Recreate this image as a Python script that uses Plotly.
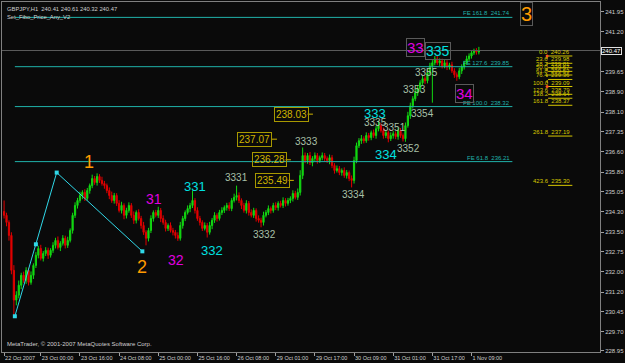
import plotly.graph_objects as go

# ---------------- data ----------------
symbol_header = "GBPJPY,H1  240.41 240.61 240.32 240.47"
indicator_name = "Set_Fibo_Price_Any_V2"
copyright_text = "MetaTrader, © 2001-2007 MetaQuotes Software Corp."

first_open = 234.30
closes = [
    234.15, 233.88, 233.38, 232.04, 230.90, 231.09, 231.47, 231.85, 231.66, 232.04,
    231.58, 231.85, 232.23, 232.62, 232.88, 232.50, 232.69, 232.81, 232.62, 232.81,
    233.00, 233.19, 232.92, 233.08, 233.27, 233.00, 233.19, 233.57, 234.15, 234.53,
    234.72, 234.91, 235.03, 234.80, 235.10, 235.29, 235.56, 235.41, 235.64, 235.49,
    235.37, 235.29, 235.10, 234.91, 234.72, 234.91, 234.61, 234.34, 234.53, 234.15,
    234.34, 234.53, 234.15, 233.96, 234.26, 234.03, 233.76, 233.50, 233.27, 233.57,
    234.03, 234.26, 234.15, 234.34, 234.03, 233.88, 233.65, 233.76, 233.57, 233.50,
    233.38, 233.27, 233.76, 234.03, 234.26, 234.41, 234.53, 234.72, 234.34, 234.03,
    233.88, 233.65, 233.76, 233.50, 233.76, 233.96, 234.15, 234.03, 234.26, 234.34,
    234.45, 234.53, 234.41, 234.72, 234.84, 234.91, 234.72, 234.53, 234.34, 234.61,
    234.26, 234.15, 234.34, 234.03, 233.96, 233.88, 234.15, 234.26, 234.41, 234.34,
    234.53, 234.45, 234.61, 234.53, 234.72, 234.61, 234.72, 234.80, 234.99, 234.84,
    235.03, 235.68, 236.44, 236.25, 236.44, 236.17, 236.33, 236.44, 236.25, 236.36,
    236.44, 236.33, 236.25, 236.36, 236.06, 235.87, 235.94, 235.79, 235.87, 235.68,
    235.79, 235.56, 235.49, 236.25, 236.82, 237.01, 237.09, 237.01, 237.21, 237.13,
    237.32, 237.21, 237.47, 237.59, 237.40, 237.21, 237.32, 237.09, 237.21, 237.28,
    237.17, 237.40, 237.21, 237.09, 237.59, 237.97, 238.35, 238.62, 238.85, 239.00,
    239.23, 239.39, 239.31, 239.61, 239.88, 240.00, 240.15, 240.00, 240.07, 239.88,
    240.00, 239.84, 239.92, 239.69, 239.54, 239.46, 239.69, 239.84, 240.00, 240.15,
    240.26, 240.38, 240.46, 240.41, 240.47,
]
# upper / lower shadow lengths of each bar, in pips (0.01)
wick_up_pips = [
    15, 10, 8, 12, 20, 15, 18, 10, 14, 12,
    10, 15, 8, 12, 10, 14, 9, 12, 10, 8,
    12, 10, 15, 8, 12, 10, 14, 8, 10, 12,
    10, 15, 8, 12, 10, 8, 15, 10, 12, 9,
    14, 10, 8, 12, 15, 10, 9, 12, 14, 8,
    10, 12, 9, 15, 8, 12, 10, 14, 8, 10,
    12, 8, 10, 14, 9, 12, 10, 8, 12, 10,
    9, 12, 14, 10, 8, 12, 10, 15, 9, 12,
    10, 8, 12, 10, 14, 9, 12, 8, 10, 12,
    8, 10, 12, 9, 14, 10, 12, 8, 10, 12,
    9, 12, 10, 8, 12, 10, 14, 9, 12, 8,
    10, 12, 8, 10, 12, 9, 10, 8, 12, 10,
    15, 20, 18, 12, 10, 14, 9, 12, 10, 8,
    12, 10, 8, 12, 10, 9, 12, 10, 8, 12,
    10, 8, 12, 15, 12, 10, 14, 9, 12, 10,
    8, 12, 10, 14, 9, 12, 10, 8, 12, 10,
    9, 12, 10, 8, 12, 15, 12, 10, 14, 12,
    10, 12, 9, 14, 12, 10, 8, 12, 10, 9,
    12, 10, 8, 12, 10, 9, 12, 10, 8, 12,
    10, 9, 8, 10, 14,
]
wick_dn_pips = [
    12, 15, 20, 15, 18, 20, 12, 15, 10, 14,
    12, 9, 14, 10, 12, 8, 12, 10, 14, 9,
    10, 12, 8, 14, 9, 12, 10, 8, 12, 10,
    12, 9, 14, 10, 8, 12, 10, 9, 12, 10,
    8, 12, 10, 14, 9, 12, 10, 8, 12, 15,
    12, 9, 10, 14, 12, 8, 12, 10, 9, 12,
    10, 12, 8, 10, 14, 9, 12, 10, 8, 12,
    12, 10, 9, 12, 10, 8, 14, 10, 12, 9,
    12, 10, 8, 12, 9, 14, 10, 12, 8, 10,
    10, 12, 9, 10, 8, 12, 10, 14, 9, 12,
    12, 8, 10, 12, 9, 10, 12, 8, 10, 12,
    9, 10, 12, 8, 10, 12, 9, 10, 12, 8,
    10, 12, 14, 10, 12, 9, 14, 10, 12, 9,
    10, 12, 9, 14, 10, 12, 8, 10, 12, 9,
    12, 10, 8, 12, 10, 9, 12, 10, 8, 12,
    10, 9, 12, 10, 8, 12, 10, 14, 9, 12,
    10, 12, 9, 10, 12, 8, 12, 10, 9, 12,
    10, 8, 12, 10, 9, 12, 10, 8, 12, 10,
    9, 12, 10, 8, 12, 10, 9, 12, 10, 8,
    9, 10, 8, 10, 9,
]
# wick extremes (bar index -> price)
high_extremes = {0: 234.72, 38: 235.76, 77: 235.10, 95: 235.29, 122: 236.75,
                 153: 237.78, 176: 240.26}
low_extremes = {4: 230.28, 58: 233.00, 83: 233.30, 105: 233.69, 142: 235.22,
                163: 236.98, 175: 238.47, 185: 239.31}

time_tick_index = [0, 15, 31, 47, 63, 79, 95, 111, 127, 143, 159, 175, 191]
time_tick_text = ["22 Oct 2007", "23 Oct 00:00", "23 Oct 16:00", "24 Oct 08:00",
                  "25 Oct 00:00", "25 Oct 16:00", "26 Oct 08:00", "29 Oct 01:00",
                  "29 Oct 17:00", "30 Oct 09:00", "31 Oct 01:00", "31 Oct 17:00",
                  "1 Nov 09:00"]
price_ticks = [241.95, 241.20, 239.65, 238.90, 238.10, 237.35, 236.60, 235.80,
               235.05, 234.30, 233.50, 232.75, 232.00, 231.20, 230.45, 229.70, 228.95]
last_price = 240.47

# Fibonacci expansion lines
fe_ratio = ["161.8", "127.6", "100.0", "61.8"]
fe_price = [241.74, 239.85, 238.32, 236.21]

# Fibonacci retracement labels
fib_ratio = ["0.0", "23.6", "38.2", "50.0", "61.8", "76.4", "100.0", "123.6",
             "138.2", "161.8", "261.8", "423.6"]
fib_price = [240.26, 239.98, 239.81, 239.67, 239.53, 239.36, 239.09, 238.79,
             238.64, 238.37, 237.19, 235.30]

# boxed price levels
box_price = [238.03, 237.07, 236.28, 235.49]

# zigzag (bar index, price)
zig_index = [4.4, 13.0, 21.5, 56.5]
zig_price = [230.28, 233.04, 235.79, 232.77]

# wave labels: text, bar index, price
wave_major = [("1", 34.5, 236.21), ("2", 56.5, 232.16)]
wave_minor = [("31", 61.3, 234.76), ("32", 70.3, 232.43)]
wave_sub = [("331", 78.0, 235.26), ("332", 85.0, 232.81), ("333", 151.6, 238.05),
            ("334", 156.0, 236.48)]
wave_subsub = [("3331", 95.0, 235.60), ("3332", 106.5, 233.42), ("3333", 123.5, 236.98),
               ("3334", 142.6, 234.95), ("3335", 151.6, 237.70), ("3351", 159.7, 237.51),
               ("3352", 165.4, 236.71), ("3353", 167.8, 238.96), ("3354", 171.1, 238.05),
               ("3355", 172.7, 239.61)]
wave_boxed = [("3", 213.4, 241.87, "#ff9a00", 20), ("33", 168.3, 240.57, "#e000e0", 15),
              ("335", 177.2, 240.46, "#00e0e0", 14), ("34", 188.2, 238.81, "#e000e0", 15)]

# ---------------- build ----------------
n = len(closes)
idx = list(range(n))
opens = [first_open] + closes[:-1]
highs = [round(max(o, c) + u / 100, 2) for o, c, u in zip(opens, closes, wick_up_pips)]
lows = [round(min(o, c) - d / 100, 2) for o, c, d in zip(opens, closes, wick_dn_pips)]
for k, v in high_extremes.items():
    highs[k] = max(highs[k], v)
for k, v in low_extremes.items():
    lows[k] = min(lows[k], v)

BG = "#0a0a0a"
TEAL = "#20b2aa"
YEL = "#d8c800"
GOLD = "#d0b400"
FONT = "Liberation Sans, Arial, sans-serif"

fig = go.Figure()

# current price line
fig.add_trace(go.Scatter(x=[-5, 250], y=[last_price, last_price], mode="lines",
                         line=dict(color="#5a5a5a", width=1), hoverinfo="skip"))

# FE lines
fe_x0, fe_x1 = 4.4, 207.7
for r, p in zip(fe_ratio, fe_price):
    fig.add_trace(go.Scatter(x=[fe_x0, fe_x1], y=[p, p], mode="lines",
                             line=dict(color=TEAL, width=1), hoverinfo="skip"))

# fib retracement underlines and vertical
fib_x0, fib_x1 = 222.3, 232.2
for p in fib_price:
    fig.add_trace(go.Scatter(x=[fib_x0, fib_x1], y=[p, p], mode="lines",
                             line=dict(color=YEL, width=1), hoverinfo="skip"))
fig.add_trace(go.Scatter(x=[221.9, 221.9], y=[fib_price[0], fib_price[6]], mode="lines+markers",
                         line=dict(color=YEL, width=1, dash="dot"),
                         marker=dict(color="#ff5020", size=3), hoverinfo="skip"))

# boxed price level stubs
box_x = [117.4, 102.4, 108.5, 109.7]
stub_x0 = [124.0, 109.3, 115.0, 116.2]
for p, s in zip(box_price, stub_x0):
    fig.add_trace(go.Scatter(x=[s, s + 2.2], y=[p, p], mode="lines",
                             line=dict(color=GOLD, width=1), hoverinfo="skip"))

# candles
fig.add_trace(go.Candlestick(
    x=idx, open=opens, high=highs, low=lows, close=closes,
    increasing=dict(line=dict(color="#12d812", width=1), fillcolor="#12d812"),
    decreasing=dict(line=dict(color="#e00000", width=1), fillcolor="#e00000"),
    whiskerwidth=0, hoverinfo="skip"))

# zigzag
fig.add_trace(go.Scatter(x=zig_index, y=zig_price, mode="lines+markers",
                         line=dict(color="#30d8e8", width=1),
                         marker=dict(symbol="square", size=4, color="#30d8e8"),
                         hoverinfo="skip"))

ann = []
# header
ann.append(dict(xref="paper", yref="paper", x=0, y=1, xshift=3, yshift=-2,
                xanchor="left", yanchor="top", showarrow=False, text=symbol_header,
                font=dict(family=FONT, size=5.8, color="#d0d0d0")))
ann.append(dict(xref="paper", yref="paper", x=0, y=1, xshift=3, yshift=-10,
                xanchor="left", yanchor="top", showarrow=False, text=indicator_name,
                font=dict(family=FONT, size=5.8, color="#d0d0d0")))
ann.append(dict(xref="paper", yref="paper", x=0, y=0, xshift=3, yshift=3,
                xanchor="left", yanchor="bottom", showarrow=False, text=copyright_text,
                font=dict(family=FONT, size=6, color="#d0d0d0")))
# current price box
ann.append(dict(xref="paper", yref="y", x=1, y=last_price, xshift=1, xanchor="left",
                yanchor="middle", showarrow=False, text=f"{last_price:.2f}",
                bgcolor=BG, bordercolor="#e0e0e0", borderwidth=1, borderpad=0,
                font=dict(family=FONT, size=6, color="#ffffff")))
# FE labels
for r, p in zip(fe_ratio, fe_price):
    ann.append(dict(x=fe_x1, y=p, xanchor="right", yanchor="bottom", showarrow=False,
                    text=f"FE {r}  {p:.2f}", yshift=-1,
                    font=dict(family=FONT, size=6, color=TEAL)))
# fib labels
for r, p in zip(fib_ratio, fib_price):
    ann.append(dict(x=fib_x1, y=p, xanchor="right", yanchor="bottom", showarrow=False,
                    text=f"{r}  {p:.2f}", yshift=-1,
                    font=dict(family=FONT, size=6, color=YEL)))
# boxed price labels
for p, bx in zip(box_price, box_x):
    ann.append(dict(x=bx, y=p, xanchor="center", yanchor="middle", showarrow=False,
                    text=f"{p:.2f}", bordercolor="#a89800", borderwidth=1, borderpad=1,
                    font=dict(family=FONT, size=10, color=GOLD)))
# waves
for t, x, y in wave_major:
    ann.append(dict(x=x, y=y, showarrow=False, text=t,
                    font=dict(family=FONT, size=18, color="#ff9a00")))
for t, x, y in wave_minor:
    ann.append(dict(x=x, y=y, showarrow=False, text=t,
                    font=dict(family=FONT, size=14, color="#e000e0")))
for t, x, y in wave_sub:
    ann.append(dict(x=x, y=y, showarrow=False, text=t,
                    font=dict(family=FONT, size=13, color="#00e0e0")))
for t, x, y in wave_subsub:
    ann.append(dict(x=x, y=y, showarrow=False, text=t,
                    font=dict(family=FONT, size=10, color="#a8c0a8")))
for t, x, y, col, sz in wave_boxed:
    ann.append(dict(x=x, y=y, showarrow=False, text=t, bordercolor="#5a5a5a",
                    borderwidth=1, borderpad=0,
                    font=dict(family=FONT, size=sz, color=col)))

fig.update_layout(
    width=625, height=363,
    margin=dict(l=1, r=23, t=1, b=11),
    paper_bgcolor=BG, plot_bgcolor=BG,
    showlegend=False,
    annotations=ann,
    xaxis=dict(range=[-0.85, 243.5], tickmode="array", tickvals=time_tick_index,
               ticktext=time_tick_text, ticks="outside", ticklen=3, tickcolor="#a0a0a0",
               tickangle=0, ticklabelposition="outside right",
               tickfont=dict(family=FONT, size=5.5, color="#d0d0d0"),
               showgrid=False, zeroline=False, showline=True, linecolor="#808080",
               mirror=True, rangeslider=dict(visible=False), fixedrange=True),
    yaxis=dict(side="right", range=[228.91, 242.33], tickmode="array",
               tickvals=price_ticks, ticktext=[f"{v:.2f}" for v in price_ticks],
               ticks="outside", ticklen=3, tickcolor="#a0a0a0",
               tickfont=dict(family=FONT, size=6, color="#d0d0d0"),
               showgrid=False, zeroline=False, showline=True, linecolor="#808080",
               mirror=True, fixedrange=True),
)

fig.write_html("out.html")
